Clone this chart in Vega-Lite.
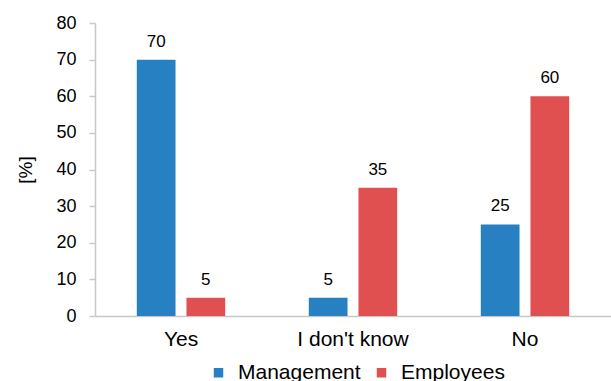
{
  "$schema": "https://vega.github.io/schema/vega-lite/v6.json",
  "width": 516,
  "height": 293,
  "autosize": "none",
  "padding": {"left": 95, "top": 23, "right": 0, "bottom": 65},
  "background": "white",
  "config": {
    "view": {"stroke": null},
    "font": "Liberation Sans"
  },
  "data": {
    "values": [
      {"answer": "Yes", "group": "Management", "value": 70},
      {"answer": "Yes", "group": "Employees", "value": 5},
      {"answer": "I don't know", "group": "Management", "value": 5},
      {"answer": "I don't know", "group": "Employees", "value": 35},
      {"answer": "No", "group": "Management", "value": 25},
      {"answer": "No", "group": "Employees", "value": 60}
    ]
  },
  "encoding": {
    "x": {
      "field": "answer", "type": "nominal", "sort": ["Yes", "I don't know", "No"],
      "scale": {"paddingInner": 0.486, "paddingOuter": 0.243},
      "axis": {"title": null, "labelAngle": 0, "ticks": false, "domainColor": "#c8c8c8", "domainWidth": 1.5, "labelFontSize": 21, "labelColor": "#000", "labelPadding": 12, "labelFont": "Liberation Sans"}
    },
    "xOffset": {"field": "group", "type": "nominal", "sort": ["Management", "Employees"], "scale": {"paddingInner": 0.22, "paddingOuter": 0}},
    "y": {
      "field": "value", "type": "quantitative",
      "scale": {"domain": [0, 80]},
      "axis": {"title": "[%]", "titleFontSize": 19, "titleFontWeight": "normal", "titleColor": "#000", "titlePadding": 20, "values": [0,10,20,30,40,50,60,70,80], "grid": false, "domainColor": "#c8c8c8", "domainWidth": 1.5, "tickColor": "#c8c8c8", "tickSize": 6, "tickWidth": 1.5, "labelFontSize": 18, "labelColor": "#000", "labelPadding": 13}
    }
  },
  "layer": [
    {
      "mark": {"type": "bar"},
      "encoding": {
        "color": {
          "field": "group", "type": "nominal", "sort": ["Management", "Employees"],
          "scale": {"domain": ["Management", "Employees"], "range": ["#2680c2", "#e05050"]},
          "legend": {"title": null, "orient": "none", "legendX": 113, "legendY": 339, "direction": "horizontal", "symbolType": "square", "symbolSize": 90, "symbolStrokeWidth": 0, "symbolOpacity": 1, "labelFontSize": 21, "labelColor": "#000", "columnPadding": 10, "labelOffset": 9}
        }
      }
    },
    {
      "mark": {"type": "text", "baseline": "bottom", "dy": -9, "fontSize": 17, "color": "#000"},
      "encoding": {"text": {"field": "value", "type": "quantitative"}}
    }
  ]
}
